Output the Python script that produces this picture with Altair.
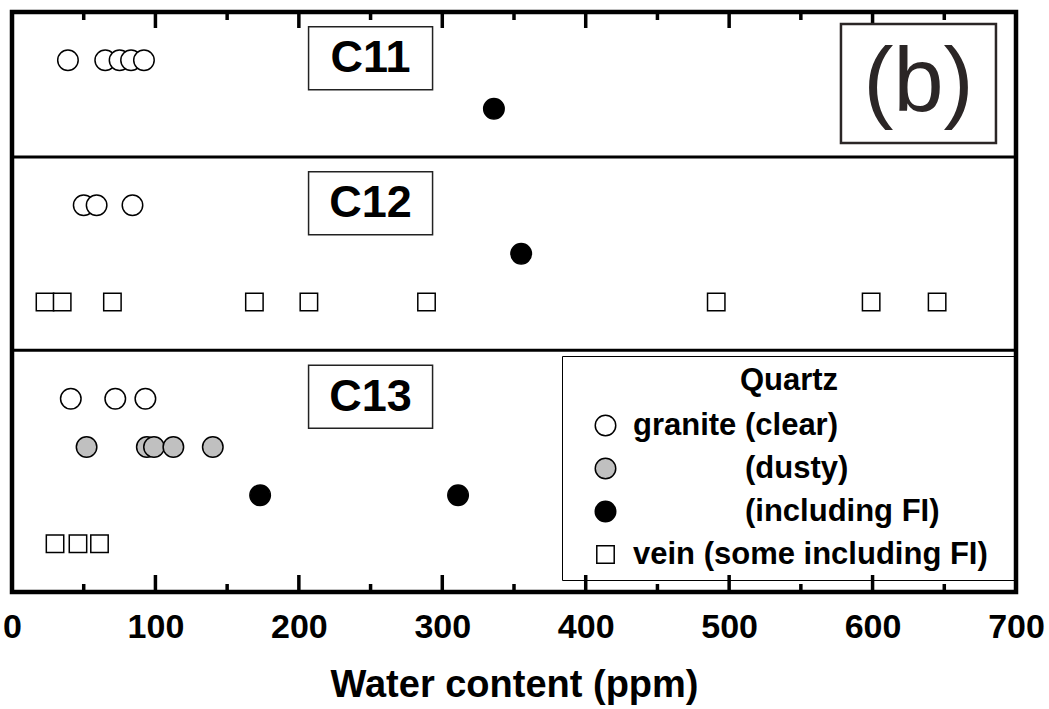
import altair as alt
import pandas as pd

# ---------------- data ----------------
major_ticks = [0, 100, 200, 300, 400, 500, 600, 700]
minor_ticks = [50, 150, 250, 350, 450, 550, 650]

samples = ["C11", "C12", "C13"]
panel_dividers = [3, 7]          # row-units where sample panels split

ZW = "\u200b"
NB = "\u00a0"
types = ["granite (clear)", ZW + NB * 13 + "(dusty)", ZW + NB * 13 + "(including FI)",
         "vein (some including FI)" + NB * 2 + ZW]

# C11
c11_clear = [39, 65, 75, 83, 92]
c11_fi = [336]
# C12
c12_clear = [50, 59, 84]
c12_fi = [355]
c12_vein = [23, 35, 70, 169, 207, 289, 491, 599, 645]
# C13
c13_clear = [41, 72, 93]
c13_dusty = [52, 94, 99, 112.5, 140]
c13_fi = [173, 311]
c13_vein = [30, 46, 61]

series = [
    ("C11", types[0], 1, c11_clear),
    ("C11", types[2], 2, c11_fi),
    ("C12", types[0], 4, c12_clear),
    ("C12", types[2], 5, c12_fi),
    ("C12", types[3], 6, c12_vein),
    ("C13", types[0], 8, c13_clear),
    ("C13", types[1], 9, c13_dusty),
    ("C13", types[2], 10, c13_fi),
    ("C13", types[3], 11, c13_vein),
]
label_rows = [1, 4, 8]
label_x = 250
panel_tag = "(b)"
tag_x, tag_row = 632, 1.48

rows = []
for s, t, r, vals in series:
    for v in vals:
        rows.append({"sample": s, "type": t, "row": r, "water": v})
df = pd.DataFrame(rows)
labels_df = pd.DataFrame({"sample": samples, "row": label_rows, "water": [label_x] * 3})
tag_df = pd.DataFrame({"tag": [panel_tag], "row": [tag_row], "water": [tag_x]})
div_df = pd.DataFrame({"row": panel_dividers})
major_df = pd.DataFrame({"water": major_ticks})
minor_df = pd.DataFrame({"water": minor_ticks})

W, H = 1004, 580
FONT = "Liberation Sans"

xscale = alt.Scale(domain=[0, 700], nice=False, zero=False)
yscale = alt.Scale(domain=[0, 12], reverse=True, nice=False, zero=False)

SQUARE = "M-0.85,-0.85L0.85,-0.85L0.85,0.85L-0.85,0.85Z"
LABEL_BOX = "M-1,-0.508L1,-0.508L1,0.508L-1,0.508Z"
TAG_BOX = "M-1,-0.768L1,-0.768L1,0.768L-1,0.768Z"

x_axis = alt.Axis(values=major_ticks, format="d", ticks=False, tickSize=0,
                  domain=False, grid=False, labelFlush=False,
                  labelFont=FONT, labelFontSize=34, labelFontWeight="bold",
                  labelColor="black", labelPadding=18,
                  titleFont=FONT, titleFontSize=38, titleFontWeight="bold",
                  titleColor="black", titlePadding=22)


def X():
    return alt.X("water:Q", scale=xscale, title="Water content (ppm)", axis=x_axis)


def Y():
    return alt.Y("row:Q", scale=yscale, axis=None)


quartz_legend = alt.Legend(
    title="Quartz", orient="none", legendX=550, legendY=344,
    symbolStrokeWidth=1.5,
)

points = alt.Chart(df).mark_point(filled=False, strokeWidth=1.5, opacity=1, size=420).encode(
    x=X(), y=Y(),
    shape=alt.Shape("type:N", scale=alt.Scale(domain=types, range=["circle", "circle", "circle", SQUARE]),
                    legend=quartz_legend),
    fill=alt.Fill("type:N", scale=alt.Scale(domain=types, range=["white", "#c0c0c0", "black", "white"]),
                  legend=quartz_legend),
    stroke=alt.Stroke("type:N", scale=alt.Scale(domain=types, range=["black", "black", "black", "black"]),
                      legend=quartz_legend),
)

dividers = alt.Chart(div_df).mark_rule(color="black", strokeWidth=3).encode(
    y=Y(), x=alt.value(0), x2=alt.value(W))


def tick_layer(d, y1, y2):
    return alt.Chart(d).mark_rule(color="black", strokeWidth=3.5).encode(
        x=X(), y=alt.value(y1), y2=alt.value(y2))


ticks = [
    tick_layer(major_df, H, H - 17), tick_layer(major_df, 0, 16),
    tick_layer(minor_df, H, H - 8), tick_layer(minor_df, 0, 8),
]

boxes = alt.Chart(labels_df).mark_point(shape=LABEL_BOX, size=124 * 124, filled=True, fill="white",
                                        stroke="#222222", strokeWidth=1.5, opacity=1, yOffset=-2).encode(x=X(), y=Y())
box_text = alt.Chart(labels_df).mark_text(font=FONT, fontSize=45, fontWeight="bold", color="black",
                                          baseline="middle", dy=-2).encode(x=X(), y=Y(), text="sample:N")

tag_box = alt.Chart(tag_df).mark_point(shape=TAG_BOX, size=155 * 155, filled=True, fill="white",
                                       stroke="#2b2626", strokeWidth=2.5, opacity=1).encode(x=X(), y=Y())
tag_text = alt.Chart(tag_df).mark_text(font=FONT, fontSize=90, color="#2b2626", baseline="middle").encode(
    x=X(), y=Y(), text="tag:N")

chart = alt.layer(
    points, dividers, *ticks, boxes, box_text, tag_box, tag_text
).properties(
    width=W, height=H,
    padding={"left": 12, "top": 12, "right": 33, "bottom": 117},
    autosize=alt.AutoSizeParams(type="none"),
).configure_view(stroke="black", strokeWidth=4.5).configure_legend(
    strokeColor="black", padding=10, titleAnchor="middle",
    titleFont=FONT, titleFontSize=31, titleFontWeight="bold", titleColor="black",
    labelFont=FONT, labelFontSize=31, labelFontWeight="bold", labelColor="black",
    rowPadding=11, symbolOffset=18, labelOffset=12, labelLimit=600,
    symbolSize=420, titlePadding=13,
)

chart.save("out.html", embed_options={"renderer": "svg", "actions": False})
